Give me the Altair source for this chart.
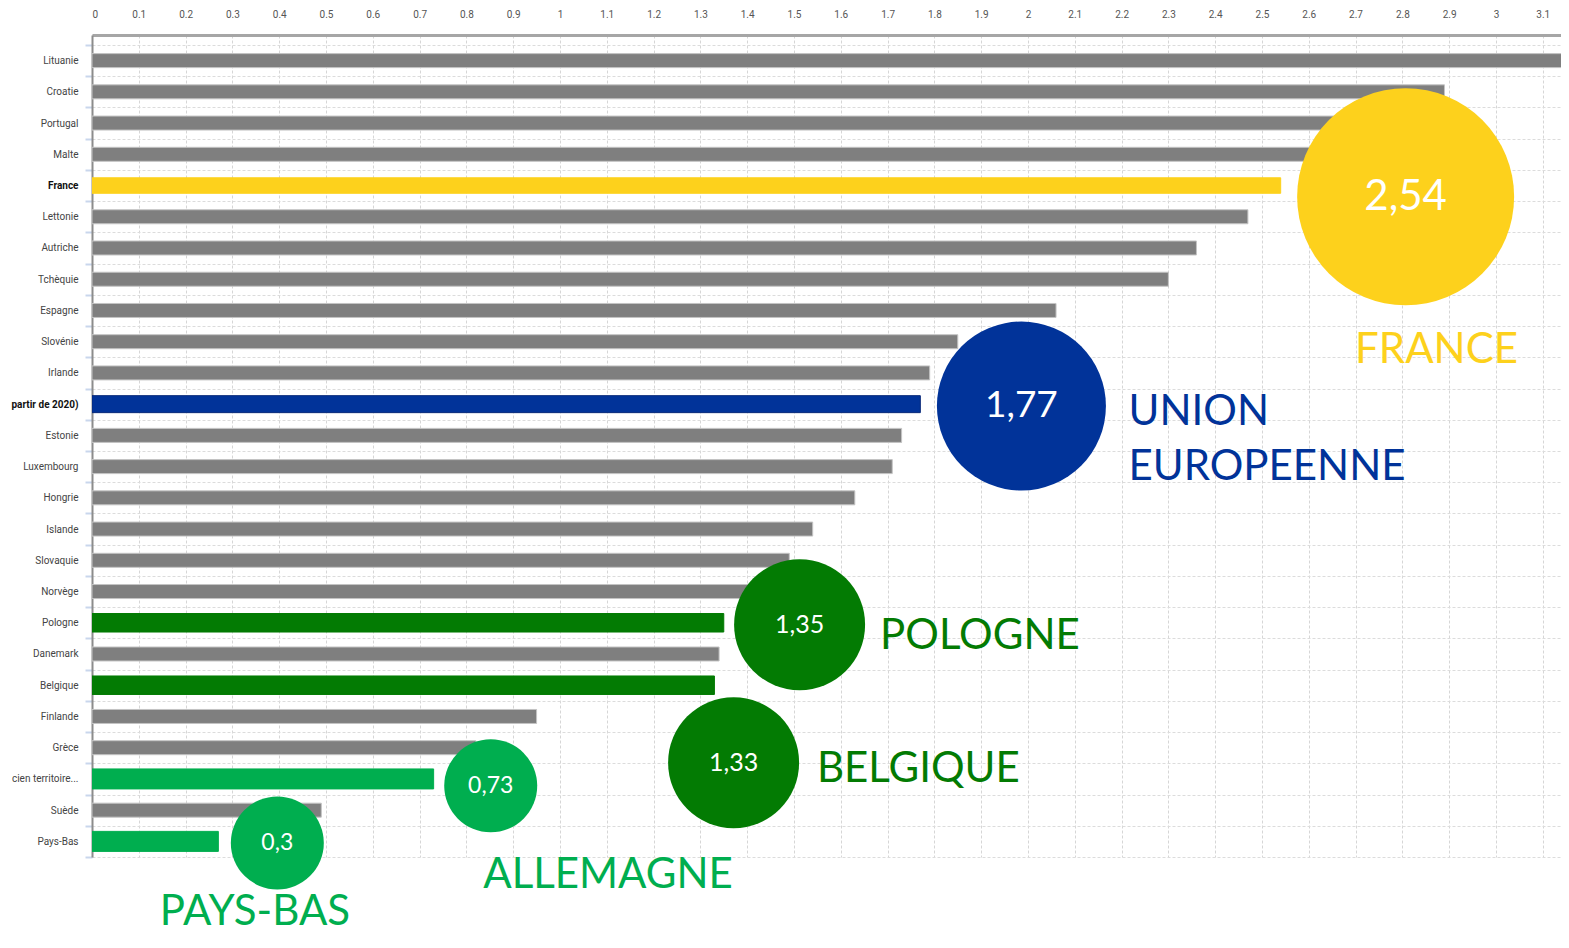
import altair as alt
import pandas as pd

# ---------------- data ----------------
pays = ["Lituanie", "Croatie", "Portugal", "Malte", "France", "Lettonie", "Autriche",
        "Tchèquie", "Espagne", "Slovénie", "Irlande", "partir de 2020)", "Estonie",
        "Luxembourg", "Hongrie", "Islande", "Slovaquie", "Norvège", "Pologne",
        "Danemark", "Belgique", "Finlande", "Grèce", "cien territoire...", "Suède",
        "Pays-Bas"]
valeurs = [3.30, 2.89, 2.76, 2.63, 2.54, 2.47, 2.36, 2.30, 2.06, 1.85, 1.79, 1.77,
           1.73, 1.71, 1.63, 1.54, 1.49, 1.42, 1.35, 1.34, 1.33, 0.95, 0.82, 0.73,
           0.49, 0.27]
groupes = ["autre", "autre", "autre", "autre", "france", "autre", "autre", "autre",
           "autre", "autre", "autre", "ue", "autre", "autre", "autre", "autre",
           "autre", "autre", "fonce", "autre", "fonce", "autre", "autre", "clair",
           "autre", "clair"]

bulle_textes = ["2,54", "1,77", "1,35", "1,33", "0,73", "0,3"]
bulle_groupes = ["france", "ue", "fonce", "fonce", "clair", "clair"]
etiquette_textes = ["FRANCE", "UNION", "EUROPEENNE", "POLOGNE", "BELGIQUE",
                    "ALLEMAGNE", "PAYS-BAS"]
etiquette_groupes = ["france", "ue", "ue", "fonce", "fonce", "clair", "clair"]
tick_values = [round(i * 0.1, 1) for i in range(32)]

# ---------------- layout (annotation placement, in data units) ----------------
bulle_x = [2.807, 1.986, 1.512, 1.371, 0.852, 0.396]
bulle_rang = [4.358, 11.06, 18.06, 22.48, 23.22, 25.05]
bulle_diam = [217, 169, 131, 131, 93, 93]
bulle_police = [42, 37, 25, 25, 23, 23]
etiq_x = [2.873, 2.215, 2.215, 1.684, 1.549, 0.836, 0.145]
etiq_rang = [9.69, 11.668, 13.43, 18.84, 23.11, 26.49, 27.68]
etiq_align = ["center", "left", "left", "left", "left", "left", "left"]

couleurs = {"autre": "#7F7F7F", "france": "#FDD11C", "ue": "#013399",
            "fonce": "#037B03", "clair": "#00AE4F"}
bordures = {"autre": "#C4C4C4", "france": "#FDD11C", "ue": "#0A2A7A",
            "fonce": "#037B03", "clair": "#00AE4F"}
epaisseurs = {"autre": 14, "france": 20, "ue": 17, "fonce": 20, "clair": 14}

grp_dom = list(couleurs.keys())

bars = pd.DataFrame({"pays": pays, "valeur": valeurs, "groupe": groupes})
bulles = pd.DataFrame({
    "x": bulle_x, "rang": bulle_rang, "texte": bulle_textes,
    "aire": [d * d for d in bulle_diam], "police": bulle_police,
    "couleur": [couleurs[g] for g in bulle_groupes],
})
etiquettes = pd.DataFrame({
    "x": etiq_x, "rang": etiq_rang, "texte": etiquette_textes,
    "couleur": [couleurs[g] for g in etiquette_groupes], "align": etiq_align,
})

W, H = 1469, 822
small_font = "Roboto"

x_scale = alt.Scale(domain=[0, 3.139], nice=False, zero=True)

bold_test = "datum.value == 'France' || datum.value == 'partir de 2020)'"

bar_layer = alt.Chart(bars).mark_bar(clip=True, strokeWidth=1).encode(
    y=alt.Y("pays:N", sort=pays,
            scale=alt.Scale(paddingInner=0, paddingOuter=0.16, align=1),
            axis=alt.Axis(title=None, tickBand="extent", grid=True,
                          gridColor="#DCDCDC", gridDash=[3, 2], gridWidth=1,
                          tickColor="#C9D6EC", tickSize=7, tickWidth=2,
                          domainColor="#8C8C8C", domainWidth=2,
                          labelPadding=7, labelFont=small_font, labelFontSize=10,
                          labelLimit=80,
                          labelColor={"condition": {"test": bold_test, "value": "#111111"},
                                      "value": "#444444"},
                          labelFontWeight={"condition": {"test": bold_test, "value": "bold"},
                                           "value": "normal"})),
    x=alt.X("valeur:Q", scale=x_scale,
            axis=alt.Axis(orient="top", title=None, values=tick_values, format="~g",
                          grid=True, gridColor="#D6D6D6", gridDash=[3, 2],
                          tickSize=0, labelPadding=16, labelFont=small_font,
                          labelFontSize=10, labelColor="#555555",
                          domainColor="#A6A6A6", domainWidth=3)),
    color=alt.Color("groupe:N", scale=alt.Scale(domain=grp_dom,
                                                range=[couleurs[g] for g in grp_dom]),
                    legend=None),
    stroke=alt.Stroke("groupe:N", scale=alt.Scale(domain=grp_dom,
                                                  range=[bordures[g] for g in grp_dom]),
                      legend=None),
    size=alt.Size("groupe:O", scale=alt.Scale(domain=grp_dom,
                                              range=[epaisseurs[g] for g in grp_dom]),
                  legend=None),
)

y_ann = alt.Y("rang:Q", scale=alt.Scale(domain=[-0.82, 25.5], reverse=True,
                                        nice=False, zero=False), axis=None)

circle_layer = alt.Chart(bulles).mark_circle(opacity=1).encode(
    x=alt.X("x:Q", scale=x_scale),
    y=y_ann,
    size=alt.Size("aire:Q", scale=None, legend=None),
    color=alt.Color("couleur:N", scale=None, legend=None),
)

num_layer = alt.Chart(bulles).mark_text(font="Lato", color="white",
                                        baseline="middle", align="center").encode(
    x=alt.X("x:Q", scale=x_scale),
    y=y_ann,
    text="texte:N",
    size=alt.Size("police:Q", scale=None, legend=None),
)

lab_left = alt.Chart(etiquettes).transform_filter("datum.align == 'left'").mark_text(
    font="Lato", fontSize=42, baseline="alphabetic", align="left").encode(
    x=alt.X("x:Q", scale=x_scale), y=y_ann, text="texte:N",
    color=alt.Color("couleur:N", scale=None, legend=None),
)
lab_center = alt.Chart(etiquettes).transform_filter("datum.align == 'center'").mark_text(
    font="Lato", fontSize=42, baseline="alphabetic", align="center").encode(
    x=alt.X("x:Q", scale=x_scale), y=y_ann, text="texte:N",
    color=alt.Color("couleur:N", scale=None, legend=None),
)

ann = alt.layer(circle_layer, num_layer, lab_left, lab_center)

chart = alt.layer(bar_layer, ann).resolve_scale(
    y="independent", color="independent", size="independent", stroke="independent"
).properties(
    width=W, height=H,
    autosize=alt.AutoSizeParams(type="none"),
    padding={"left": 84, "top": 27, "right": 0, "bottom": 78},
    background="white",
).configure_view(stroke=None)

chart.save("out.html", embed_options={"renderer": "svg", "actions": False})
